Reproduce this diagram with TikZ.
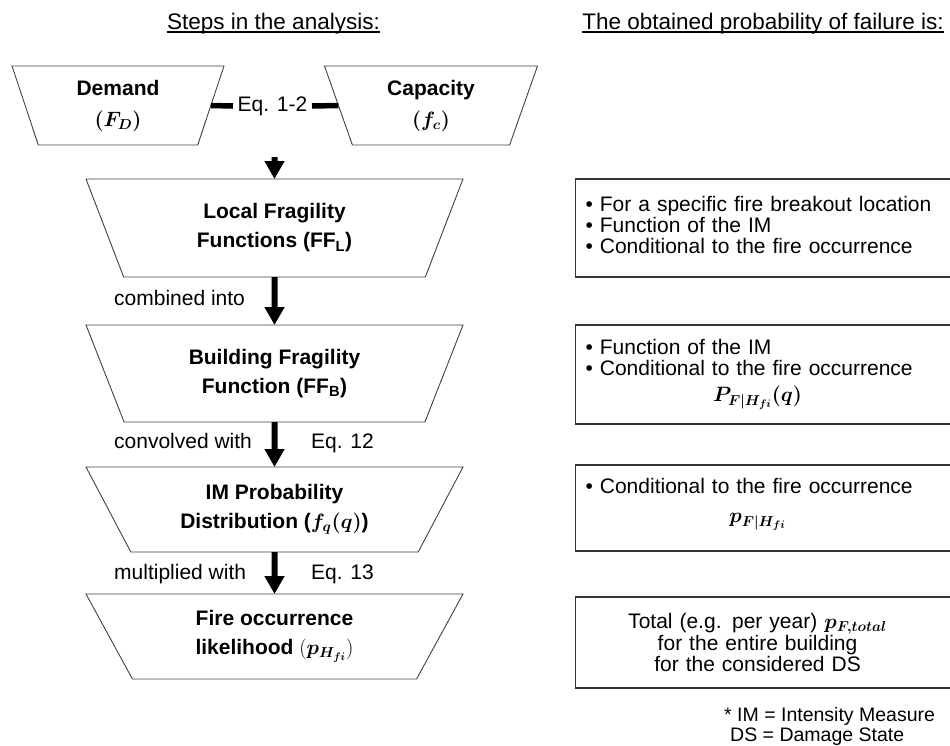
\documentclass[tikz,border=0pt]{standalone}
\usepackage{amsmath}
\usepackage{bm}
\usepackage[no-math]{fontspec}
\setmainfont{Liberation Sans}
\usetikzlibrary{shapes.geometric,arrows.meta}
\newcommand{\bl}{\textbullet\ }
\newcommand{\bmath}[1]{{\boldmath$#1$}}
\begin{document}
\begin{tikzpicture}[x=1pt,y=-1pt,
  trap/.style={trapezium, shape border rotate=180, trapezium stretches body,
    draw=black!75, line width=0.9pt, inner sep=0pt, outer sep=0pt, align=center,
    font=\fontsize{21}{29}\selectfont\bfseries},
  bigarrow/.style={line width=6pt, -{Triangle[width=19pt,length=18pt]}},
  eqline/.style={line width=5.5pt},
  lbl/.style={inner sep=0pt, font=\fontsize{21}{25}\selectfont},
  hdr/.style={inner sep=0pt, font=\fontsize{22.5}{26}\selectfont},
  rbox/.style={draw=black!80, line width=1.1pt, anchor=west, text width=370pt,
    inner xsep=10pt, inner ysep=0pt, align=left, font=\fontsize{21}{21}\selectfont},
  uline/.style={line width=1.4pt}
]
\useasboundingbox (0,0) rectangle (950,745);
\clip (0,0) rectangle (950,745);

% headers
\node[hdr, anchor=base] (h1) at (273.5,29) {Steps in the analysis:};
\node[hdr, anchor=base] (h2) at (763,29) {The obtained probability of failure is:};
\draw[uline] ([yshift=-3pt]h1.base west) -- ([yshift=-3pt]h1.base east);
\draw[uline] ([yshift=-3pt]h2.base west) -- ([yshift=-3pt]h2.base east);

% top trapezoids
\node[trap, minimum width=212pt, minimum height=79pt, trapezium angle=62.9,
  font=\fontsize{21}{31}\selectfont\bfseries] (demand) at (118,105.5) {Demand\\\bmath{(F_D)}};
\node[trap, minimum width=213pt, minimum height=79pt, trapezium angle=61.5,
  font=\fontsize{21}{31}\selectfont\bfseries] (capacity) at (431,105.5) {Capacity\\\bmath{(f_c)}};
\node[lbl, inner xsep=4.5pt, inner ysep=2pt] (eq) at (272.5,106) {Eq. 1-2};
\draw[eqline] (demand.east) -- (eq.west);
\draw[eqline] (eq.east) -- (capacity.west);
\coordinate (eqfoot) at (274.5,157);

% main chain
\node[trap, minimum width=377pt, minimum height=98pt, trapezium angle=52.2] (lff) at (274.5,228)
  {Local Fragility\\Functions (FF\textsubscript{L})};
\node[trap, minimum width=377pt, minimum height=97pt, trapezium angle=51.9] (bff) at (274.5,373.5)
  {Building Fragility\\Function (FF\textsubscript{B})};
\node[trap, minimum width=377pt, minimum height=85pt, trapezium angle=48.2] (im) at (274.5,509.5)
  {IM Probability\\Distribution (\bmath{f_q(q)})};
\node[trap, minimum width=377pt, minimum height=85pt, trapezium angle=48.2] (fire) at (274.5,636.5)
  {Fire occurrence\\likelihood $(\bm{p_{H_{fi}}})$};

\draw[bigarrow] (eqfoot) -- (lff.north);
\draw[bigarrow] (lff.south) -- (bff.north);
\draw[bigarrow] (bff.south) -- (im.north);
\draw[bigarrow] (im.south) -- (fire.north);

% arrow labels
\node[lbl, anchor=base west] (l1) at (114,305) {combined into};
\node[lbl, anchor=base west] (l2) at (114,448) {convolved with};
\node[lbl, anchor=base west] (e12) at (311,448) {Eq. 12};
\node[lbl, anchor=base west] (l3) at (114,579) {multiplied with};
\node[lbl, anchor=base west] (e13) at (311,579) {Eq. 13};

% right boxes
\node[rbox, minimum height=98pt] (b1) at (575,228)
  {\bl For a specific fire breakout location\\\bl Function of the IM\\\bl Conditional to the fire occurrence\\[-14pt]\mbox{}};
\node[rbox, minimum height=99pt] (b2) at (575,374.5)
  {\bl Function of the IM\\\bl Conditional to the fire occurrence\\[5pt]\makebox[344pt]{\bmath{P_{F|H_{fi}}(q)}}};
\node[rbox, minimum height=86pt] (b3) at (575,508)
  {\bl Conditional to the fire occurrence\\[8pt]\makebox[344pt]{\bmath{p_{F|H_{fi}}}}\\[-6pt]\mbox{}};
\node[rbox, minimum height=91pt] (b4) at (575,642.5)
  {\makebox[344pt]{Total (e.g. per year) \bmath{p_{F,total}}}\\\makebox[344pt]{for the entire building}\\\makebox[344pt]{for the considered DS}};

% footnote
\node[inner sep=0pt, anchor=base west, align=left, font=\fontsize{19.5}{20}\selectfont] (fn) at (724,741)
  {* IM = Intensity Measure\\\hspace*{6pt}DS = Damage State};
\end{tikzpicture}
\end{document}
